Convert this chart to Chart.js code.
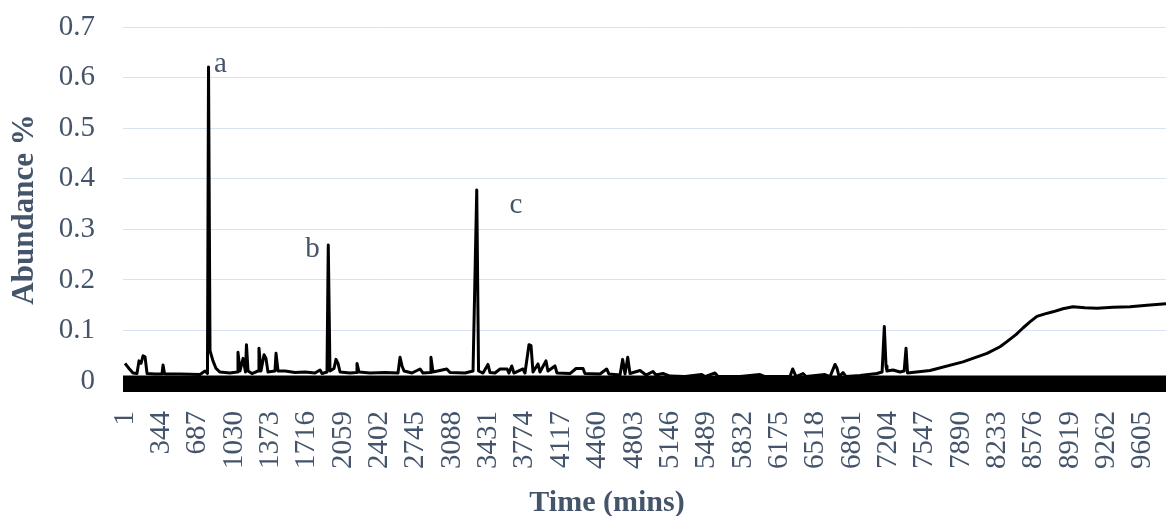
<!DOCTYPE html>
<html>
<head>
<meta charset="utf-8">
<script src="https://cdn.jsdelivr.net/npm/chart.js@4/dist/chart.umd.min.js"></script>
<style>
  html, body { margin: 0; padding: 0; background: #fff; }
  #wrap { width: 1166px; height: 516px; }
</style>
</head>
<body>
<div id="wrap"><canvas id="myChart" width="1166" height="516"></canvas></div>
<script>
// time (mins) and abundance
const times = [
  1, 39, 76, 114, 133, 152, 171, 190, 209, 284, 350, 360, 374, 520, 709, 756, 779, 789, 803, 831,
  860, 897, 992, 1058, 1067, 1086, 1115, 1138, 1147, 1162, 1199, 1256, 1265, 1284, 1313, 1331, 1350, 1416, 1426, 1445,
  1511, 1605, 1700, 1794, 1841, 1860, 1907, 1919, 1935, 1973, 1992, 2011, 2030, 2124, 2181, 2190, 2209, 2313, 2454, 2577,
  2596, 2615, 2634, 2709, 2785, 2813, 2879, 2888, 2907, 3037, 3068, 3210, 3285, 3320, 3337, 3379, 3426, 3445, 3492, 3540,
  3606, 3624, 3650, 3671, 3756, 3775, 3813, 3832, 3851, 3898, 3917, 3973, 3992, 4058, 4077, 4200, 4257, 4323, 4341, 4483,
  4546, 4568, 4672, 4697, 4719, 4745, 4766, 4861, 4917, 4983, 5011, 5077, 5143, 5285, 5443, 5474, 5568, 5597, 5804, 5993,
  6040, 6276, 6301, 6333, 6399, 6427, 6606, 6654, 6701, 6720, 6739, 6777, 6805, 6937, 7095, 7145, 7166, 7182, 7191, 7248,
  7314, 7353, 7371, 7385, 7597, 7908, 8135, 8258, 8323, 8408, 8474, 8540, 8606, 8682, 8757, 8851, 8946, 9059, 9173, 9324,
  9484, 9645, 9824
];
const abundance = [
  0.035, 0.025, 0.016, 0.015, 0.040, 0.035, 0.050, 0.048, 0.015, 0.014, 0.014, 0.032, 0.014, 0.014, 0.013, 0.020, 0.015, 0.621, 0.060, 0.040,
  0.025, 0.018, 0.016, 0.018, 0.057, 0.020, 0.045, 0.018, 0.072, 0.020, 0.015, 0.020, 0.065, 0.020, 0.052, 0.045, 0.018, 0.020, 0.055, 0.020,
  0.020, 0.017, 0.018, 0.016, 0.022, 0.015, 0.018, 0.269, 0.020, 0.025, 0.043, 0.035, 0.018, 0.016, 0.017, 0.035, 0.018, 0.016, 0.017, 0.016,
  0.047, 0.030, 0.020, 0.016, 0.024, 0.016, 0.017, 0.047, 0.018, 0.024, 0.017, 0.016, 0.020, 0.378, 0.020, 0.016, 0.033, 0.017, 0.016, 0.024,
  0.024, 0.016, 0.030, 0.016, 0.024, 0.016, 0.072, 0.070, 0.018, 0.034, 0.018, 0.040, 0.020, 0.030, 0.016, 0.015, 0.025, 0.025, 0.015, 0.014,
  0.024, 0.014, 0.012, 0.043, 0.014, 0.047, 0.015, 0.021, 0.012, 0.019, 0.012, 0.015, 0.010, 0.009, 0.013, 0.009, 0.016, 0.009, 0.009, 0.013,
  0.009, 0.009, 0.024, 0.009, 0.015, 0.009, 0.013, 0.009, 0.033, 0.025, 0.009, 0.017, 0.009, 0.011, 0.015, 0.018, 0.108, 0.030, 0.020, 0.022,
  0.018, 0.020, 0.065, 0.016, 0.021, 0.038, 0.055, 0.068, 0.078, 0.092, 0.105, 0.117, 0.128, 0.133, 0.137, 0.143, 0.147, 0.145, 0.144, 0.146,
  0.147, 0.150, 0.153
];

// solid black band along the bottom of the trace
const bandTimes = [-18, 9824];
const bandLevel = [0.011, 0.011];

const xTickLabels = [1, 344, 687, 1030, 1373, 1716, 2059, 2402, 2745, 3088, 3431, 3774, 4117, 4460, 4803,
  5146, 5489, 5832, 6175, 6518, 6861, 7204, 7547, 7890, 8233, 8576, 8919, 9262, 9605];
const yTickLabels = [0, 0.1, 0.2, 0.3, 0.4, 0.5, 0.6, 0.7];

const peakLabels = ['a', 'b', 'c'];
const peakLabelTimes = [902, 1770, 3690];
const peakLabelValues = [0.611, 0.246, 0.332];

const textColor = '#44546a';
const fontFamily = '"Liberation Serif", "Times New Roman", serif';

const peakLabelPlugin = {
  id: 'peakLabels',
  afterDatasetsDraw(chart) {
    const { ctx, scales: { x, y } } = chart;
    ctx.save();
    ctx.font = '29px ' + fontFamily;
    ctx.fillStyle = textColor;
    ctx.textAlign = 'center';
    ctx.textBaseline = 'alphabetic';
    peakLabels.forEach((txt, i) => {
      ctx.fillText(txt, x.getPixelForValue(peakLabelTimes[i]), y.getPixelForValue(peakLabelValues[i]));
    });
    ctx.restore();
  }
};

const chart = document.getElementById('myChart');

const data = {
  datasets: [
    {
      label: 'Abundance',
      data: times.map((t, i) => ({ x: t, y: abundance[i] })),
      borderColor: '#000',
      borderWidth: 3,
      borderJoinStyle: 'round',
      pointRadius: 0,
      tension: 0,
      fill: false
    },
    {
      label: 'band',
      data: bandTimes.map((t, i) => ({ x: t, y: bandLevel[i] })),
      borderWidth: 0,
      borderColor: '#000',
      backgroundColor: '#000',
      pointRadius: 0,
      fill: 'start'
    }
  ]
};

const config = {
  type: 'line',
  data: data,
  options: {
    responsive: false,
    animation: false,
    layout: { padding: { top: 27, right: 0, bottom: 0, left: 0 } },
    plugins: {
      legend: { display: false },
      tooltip: { enabled: false }
    },
    scales: {
      x: {
        type: 'linear',
        min: -18,
        max: 9824,
        afterBuildTicks: scale => { scale.ticks = xTickLabels.map(v => ({ value: v })); },
        afterFit: scale => {
          scale.height = 124;
          scale.paddingLeft = 0;
          scale.paddingRight = 0;
        },
        grid: { display: false, drawTicks: false },
        border: { display: false },
        ticks: {
          autoSkip: false,
          minRotation: 90,
          maxRotation: 90,
          padding: 19,
          color: textColor,
          font: { family: fontFamily, size: 29 },
          callback: value => String(value)
        },
        title: {
          display: true,
          // trailing spaces pull the centred title left, as in the original
          text: 'Time (mins)          ',
          color: textColor,
          padding: { top: 0, bottom: 0 },
          font: { family: fontFamily, size: 30, weight: 'bold', lineHeight: 0.85 }
        }
      },
      y: {
        min: -0.0215,
        max: 0.7,
        afterBuildTicks: scale => { scale.ticks = yTickLabels.map(v => ({ value: v })); },
        afterFit: scale => {
          scale.width = 123;
          scale.paddingTop = 0;
          scale.paddingBottom = 0;
        },
        grid: { color: '#d9e2f3', lineWidth: 1, drawTicks: false },
        border: { display: false },
        ticks: {
          padding: 28,
          color: textColor,
          font: { family: fontFamily, size: 29 },
          callback: value => String(value)
        },
        title: {
          display: true,
          text: 'Abundance %',
          color: textColor,
          padding: { top: 8, bottom: 0 },
          font: { family: fontFamily, size: 31, weight: 'bold', lineHeight: 1.1 }
        }
      }
    }
  },
  plugins: [peakLabelPlugin]
};

const myChart = new Chart(chart, config);
</script>
</body>
</html>
